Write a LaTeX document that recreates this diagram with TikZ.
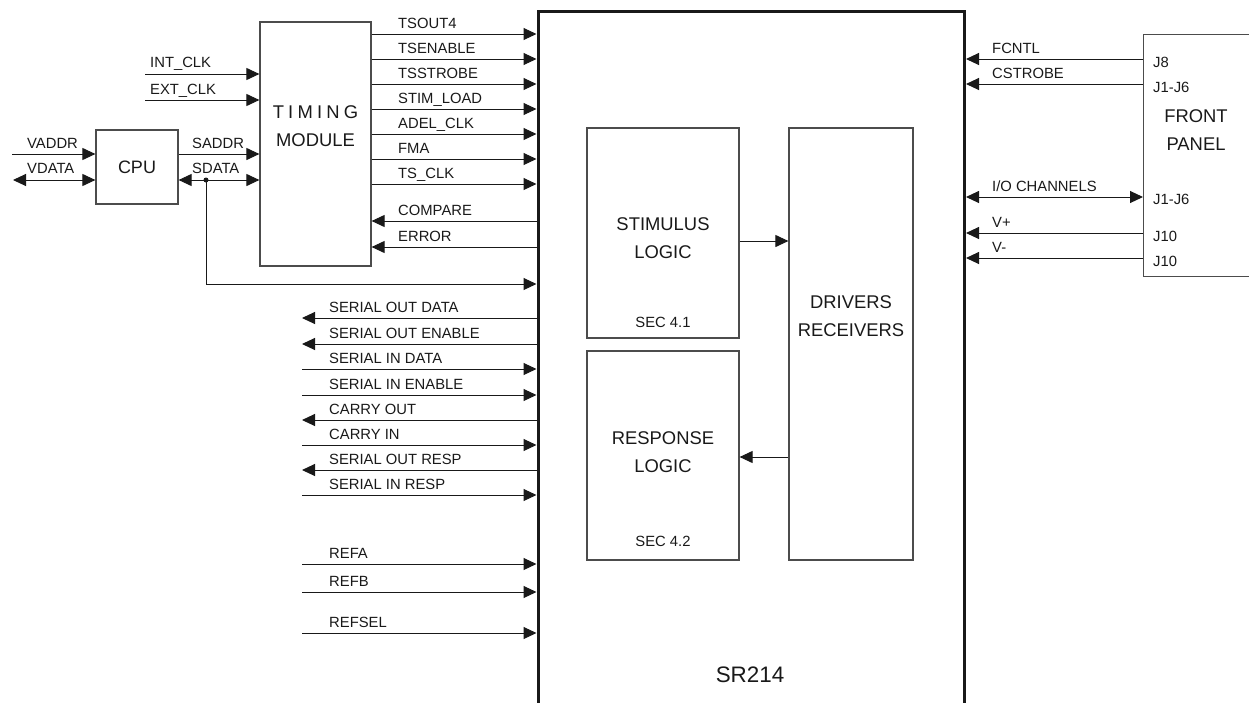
\documentclass[tikz,border=0pt]{standalone}
\usepackage{fontspec}
\setmainfont{Liberation Sans}
\usetikzlibrary{positioning, arrows.meta}

\begin{document}
\begin{tikzpicture}[
    x=1pt, y=-1pt,
    box/.style={draw=black!70, line width=1.2pt, inner sep=0pt},
    chip/.style={draw=black!90, line width=3pt, inner sep=0pt},
    wire/.style={line width=1pt, draw=black!90},
    rarr/.style={wire, -{Triangle[length=13pt, width=12pt]}},
    larr/.style={wire, {Triangle[length=13pt, width=12pt]}-},
    barr/.style={wire, {Triangle[length=13pt, width=12pt]}-{Triangle[length=13pt, width=12pt]}},
    sig/.style={anchor=base west, inner sep=0pt, text=black!90, font=\fontsize{14.8}{16}\selectfont},
    pin/.style={anchor=west, inner sep=0pt, text=black!90, font=\fontsize{14.8}{16}\selectfont},
    title/.style={align=center, inner sep=0pt, text=black!90, font=\fontsize{18.4}{28}\selectfont}
  ]
  \clip (0,0) rectangle (1249,702);

  % blocks
  \node[chip, anchor=north west, minimum width=426.5pt, minimum height=720pt] (sr) at (536.5,9.5) {};
  \node[title, font=\fontsize{22.4}{24}\selectfont] (srtxt) at (750,675) {SR214};
  \node[box, minimum width=82pt, minimum height=74pt, font=\fontsize{18}{20}\selectfont, text=black!90] (cpu) at (137,167) {CPU};
  \node[box, minimum width=111pt, minimum height=244pt] (tm) at (315.5,144) {};
  \node[title] (tmtxt) at (315.5,126) {T\hspace{4.2pt}I\hspace{4.2pt}M\hspace{4.2pt}I\hspace{4.2pt}N\hspace{4.2pt}G\\MODULE};
  \node[box, minimum width=152pt, minimum height=210pt] (stim) at (663,233) {};
  \node[title] (stimtxt) at (663,238) {STIMULUS\\LOGIC};
  \node[sig, anchor=center] (stimsec) at (663,322) {SEC 4.1};
  \node[box, minimum width=152pt, minimum height=209pt] (resp) at (663,455.5) {};
  \node[title] (resptxt) at (663,452) {RESPONSE\\LOGIC};
  \node[sig, anchor=center] (respsec) at (663,541) {SEC 4.2};
  \node[box, minimum width=124pt, minimum height=432pt] (drv) at (851,344) {};
  \node[title] (drvtxt) at (851,316.5) {DRIVERS\\RECEIVERS};
  \node[box, anchor=north west, minimum width=150pt, minimum height=242pt] (fp) at (1143,34) {};
  \node[title] (fptxt) at (1196,130) {FRONT\\PANEL};

  % inside the chip
  \draw[rarr] (stim.east |- 0,241) -- (drv.west |- 0,241);
  \draw[larr] (resp.east |- 0,457) -- (drv.west |- 0,457);

  % cpu and clocks
  \coordinate (vaddr) at (12,154);
  \coordinate (vdata) at (13,180);
  \coordinate (intclk) at (145,74);
  \coordinate (extclk) at (145,100);
  \draw[rarr] (vaddr) -- (cpu.west |- vaddr);
  \draw[barr] (vdata) -- (cpu.west |- vdata);
  \draw[rarr] (cpu.east |- vaddr) -- (tm.west |- vaddr);
  \draw[barr] (cpu.east |- vdata) -- (tm.west |- vdata);
  \draw[rarr] (intclk) -- (tm.west |- intclk);
  \draw[rarr] (extclk) -- (tm.west |- extclk);
  \coordinate (tap) at (206,180);
  \fill[black!90] (tap) circle (2.5pt);
  \draw[rarr] (tap) |- (sr.west |- 0,284);
  \node[sig] (lvaddr) at (27,148) {VADDR};
  \node[sig] (lvdata) at (27,173) {VDATA};
  \node[sig] (lsaddr) at (192,148) {SADDR};
  \node[sig] (lsdata) at (192,173) {SDATA};
  \node[sig] (lintclk) at (150,67) {INT\_CLK};
  \node[sig] (lextclk) at (150,94) {EXT\_CLK};

  % timing module to chip
  \foreach \y/\txt/\dir [count=\i] in {34/TSOUT4/rarr, 59/TSENABLE/rarr, 84/TSSTROBE/rarr,
      109/STIM\_LOAD/rarr, 134/ADEL\_CLK/rarr, 159/FMA/rarr, 184/TS\_CLK/rarr,
      221/COMPARE/larr, 247/ERROR/larr} {
    \draw[\dir] (tm.east |- 0,\y) -- (sr.west |- 0,\y);
    \node[sig] (t\i) at (398,\y-6) {\txt};
  }

  % serial and reference lines
  \foreach \y/\txt/\dir [count=\i] in {318/SERIAL OUT DATA/larr, 344/SERIAL OUT ENABLE/larr,
      369/SERIAL IN DATA/rarr, 395/SERIAL IN ENABLE/rarr, 420/CARRY OUT/larr,
      445/CARRY IN/rarr, 470/SERIAL OUT RESP/larr, 495/SERIAL IN RESP/rarr,
      564/REFA/rarr, 592/REFB/rarr, 633/REFSEL/rarr} {
    \coordinate (s\i) at (302,\y);
    \draw[\dir] (s\i) -- (sr.west |- s\i);
    \node[sig] (ls\i) at (329,\y-5.5) {\txt};
  }

  % front panel
  \foreach \y/\txt/\pn [count=\i] in {59/FCNTL/J8, 84/CSTROBE/J1-J6, 233/V+/J10, 258/V-/J10} {
    \draw[larr] (sr.east |- 0,\y) -- (fp.west |- 0,\y);
    \node[sig] (f\i) at (992,\y-6) {\txt};
    \node[pin] (p\i) at (1153,\y+3) {\pn};
  }
  \draw[barr] (sr.east |- 0,197) -- (fp.west |- 0,197);
  \node[sig] (fio) at (992,191) {I/O CHANNELS};
  \node[pin] (pio) at (1153,199) {J1-J6};
\end{tikzpicture}
\end{document}
